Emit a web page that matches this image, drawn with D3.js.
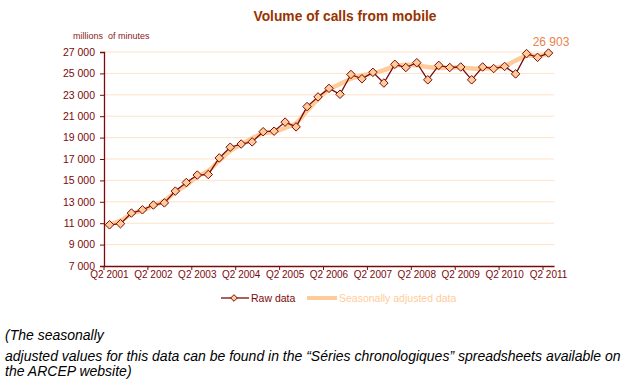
<!DOCTYPE html>
<html>
<head>
<meta charset="utf-8">
<script src="https://cdn.jsdelivr.net/npm/d3@7.9.0/dist/d3.min.js"></script>
<style>
  body { margin: 0; background: #fff; }
  svg { display: block; font-family: "Liberation Sans", Arial, sans-serif; }
</style>
</head>
<body>
<svg id="chart" width="635" height="384"></svg>
<script>
// quarters Q2 2001 .. Q2 2011
const years = [2001, 2002, 2003, 2004, 2005, 2006, 2007, 2008, 2009, 2010, 2011];
const tickLabels = years.map(y => `Q2 ${y}`);

const rawData = [10850, 10950, 11950, 12250, 12700, 12900, 14000, 14800, 15500, 15550,
  17100, 18100, 18400, 18600, 19550, 19600, 20450, 20000, 21900, 22800,
  23600, 23050, 24900, 24500, 25100, 24100, 25850, 25550, 26000, 24400,
  25750, 25550, 25600, 24400, 25600, 25450, 25650, 24950, 26850, 26500, 26903];

const adjData = [10900, 11250, 11850, 12200, 12650, 13100, 13900, 14550, 15350, 15900,
  16850, 17750, 18350, 18950, 19400, 19550, 19900, 20350, 21500, 22600,
  23500, 24000, 24500, 24800, 25000, 25300, 25700, 25800, 25750, 25600,
  25500, 25550, 25550, 25450, 25450, 25500, 25700, 26200, 26650, 26650, 26800];

const yTicks = [7000, 9000, 11000, 13000, 15000, 17000, 19000, 21000, 23000, 25000, 27000];

// build category names
let quarters = [];
for (let y = 2001; y <= 2011; y++) {
  for (let q = 1; q <= 4; q++) {
    if (y === 2001 && q < 2) continue;
    if (y === 2011 && q > 2) continue;
    quarters.push(`Q${q} ${y}`);
  }
}

const maroon = '#7b0a0a';
const peach = '#ffcc99';
const svg = d3.select('#chart');

const x = d3.scaleBand().domain(quarters).range([104, 554]);
const cx = (q) => x(q) + x.bandwidth() / 2;
const y = d3.scaleLinear().domain([7000, 27000]).range([266, 52]);

// title
svg.append('text')
  .attr('x', 345).attr('y', 21)
  .attr('text-anchor', 'middle')
  .attr('font-size', 13.8).attr('font-weight', 'bold')
  .attr('fill', '#993300')
  .text('Volume of calls from mobile');

svg.append('text')
  .attr('x', 73).attr('y', 39)
  .attr('font-size', 9)
  .attr('fill', '#8b1a1a')
  .attr('xml:space', 'preserve')
  .text('millions  of minutes');

// gridlines
svg.append('g')
  .selectAll('line')
  .data(yTicks.slice(1))
  .join('line')
  .attr('x1', 104).attr('x2', 554)
  .attr('y1', d => y(d)).attr('y2', d => y(d))
  .attr('stroke', '#fde3c8').attr('stroke-width', 1);

// y axis
const yAxis = svg.append('g')
  .attr('transform', 'translate(104,0)')
  .call(d3.axisLeft(y).tickValues(yTicks).tickSize(4).tickPadding(5)
    .tickFormat(d => d3.format(',')(d).replace(',', ' ')));
yAxis.select('.domain').attr('stroke', maroon).attr('stroke-width', 1.3);
yAxis.selectAll('.tick line').attr('stroke', maroon);
yAxis.selectAll('.tick text')
  .attr('fill', maroon).attr('font-size', 10.5)
  .attr('font-family', '"Liberation Sans", Arial, sans-serif');

// x axis
const xAxis = svg.append('g')
  .attr('transform', 'translate(0,266)')
  .call(d3.axisBottom(x).tickValues(quarters.filter((q, i) => i % 4 === 0))
    .tickSize(0).tickPadding(5)
    .tickFormat(q => tickLabels[quarters.indexOf(q) / 4]));
xAxis.select('.domain').attr('stroke', maroon).attr('stroke-width', 1.3);
xAxis.selectAll('.tick text')
  .attr('fill', maroon).attr('font-size', 10)
  .attr('font-family', '"Liberation Sans", Arial, sans-serif');
// small tick marks at band edges
svg.append('g')
  .selectAll('line')
  .data(quarters.filter((q, i) => i % 4 === 0))
  .join('line')
  .attr('x1', d => x(d)).attr('x2', d => x(d))
  .attr('y1', 266).attr('y2', 270)
  .attr('stroke', maroon);

// seasonally adjusted line
const line = d3.line().x((d, i) => cx(quarters[i])).y(d => y(d));
svg.append('path')
  .datum(adjData)
  .attr('d', line.curve(d3.curveCatmullRom.alpha(0.5)))
  .attr('fill', 'none')
  .attr('stroke', peach)
  .attr('stroke-width', 4.5)
  .attr('stroke-linejoin', 'round');

// raw line
svg.append('path')
  .datum(rawData)
  .attr('d', d3.line().x((d, i) => cx(quarters[i])).y(d => y(d)))
  .attr('fill', 'none')
  .attr('stroke', maroon)
  .attr('stroke-width', 1.3);

const diamond = d3.symbol().type(d3.symbolDiamond2).size(46);
svg.append('g')
  .selectAll('path')
  .data(rawData)
  .join('path')
  .attr('d', diamond)
  .attr('transform', (d, i) => `translate(${cx(quarters[i])},${y(d)})`)
  .attr('fill', peach)
  .attr('stroke', maroon)
  .attr('stroke-width', 1);

// last value label
svg.append('text')
  .attr('x', 551).attr('y', 46)
  .attr('text-anchor', 'middle')
  .attr('font-size', 12)
  .attr('fill', '#e8834a')
  .text(d3.format(',')(rawData[rawData.length - 1]).replace(',', ' '));

// legend
const lg = svg.append('g').attr('transform', 'translate(0,298)');
lg.append('line').attr('x1', 221).attr('x2', 249).attr('y1', 0).attr('y2', 0)
  .attr('stroke', maroon).attr('stroke-width', 1.3);
lg.append('path').attr('d', d3.symbol().type(d3.symbolDiamond2).size(28))
  .attr('transform', 'translate(234,0)')
  .attr('fill', peach).attr('stroke', maroon);
lg.append('text').attr('x', 251).attr('y', 4)
  .attr('font-size', 10.5).attr('fill', maroon).text('Raw data');
lg.append('line').attr('x1', 307).attr('x2', 337).attr('y1', 0).attr('y2', 0)
  .attr('stroke', peach).attr('stroke-width', 4);
lg.append('text').attr('x', 339).attr('y', 4)
  .attr('font-size', 10.5).attr('fill', peach).text('Seasonally adjusted data');

// footnote
const notes = [
  '(The seasonally',
  'adjusted values for this data can be found in the \u201cS\u00e9ries chronologiques\u201d spreadsheets available on',
  'the ARCEP website)'
];
const noteY = [340, 361, 376];
svg.append('g')
  .selectAll('text')
  .data(notes)
  .join('text')
  .attr('x', 5)
  .attr('y', (d, i) => noteY[i])
  .attr('font-size', 14)
  .attr('font-style', 'italic')
  .attr('fill', '#000')
  .text(d => d);
</script>
</body>
</html>
